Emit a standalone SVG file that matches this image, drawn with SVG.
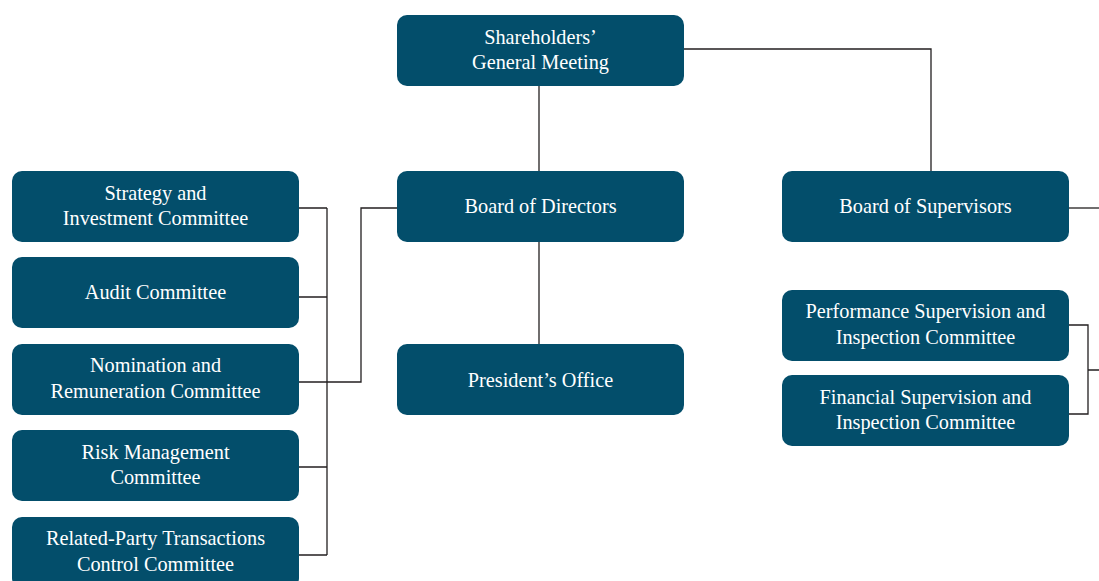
<svg xmlns="http://www.w3.org/2000/svg" width="1099" height="581" viewBox="0 0 1099 581">
<style>
.box{fill:#034e6b;}
.t{font-family:"Liberation Serif","DejaVu Serif",serif;font-size:20.3px;fill:#ffffff;text-anchor:middle;}
.c{fill:none;stroke:#231f20;stroke-width:1.3;}
</style>
<rect width="1099" height="581" fill="#ffffff"/>
<g id="connectors">
<path class="c" d="M539,86V171"/>
<path class="c" d="M684,49H931V171"/>
<path class="c" d="M539,242V344"/>
<path class="c" d="M397,208H361V382H298"/>
<path class="c" d="M327,208V555"/>
<path class="c" d="M298,208H327M298,297H327M298,467H327M298,555H327"/>
<path class="c" d="M1068,208H1099"/>
<path class="c" d="M1068,325H1088V414H1068M1088,370H1099"/>
</g>
<g id="shareholders"><rect class="box" x="397" y="15" width="287" height="71" rx="10"/><text class="t" x="540.5" y="44">Shareholders’</text><text class="t" x="540.5" y="69">General Meeting</text></g>
<g id="board-directors"><rect class="box" x="397" y="171" width="287" height="71" rx="10"/><text class="t" x="540.5" y="213">Board of Directors</text></g>
<g id="presidents-office"><rect class="box" x="397" y="344" width="287" height="71" rx="10"/><text class="t" x="540.5" y="387">President’s Office</text></g>
<g id="board-supervisors"><rect class="box" x="782" y="171" width="287" height="71" rx="10"/><text class="t" x="925.5" y="213">Board of Supervisors</text></g>
<g id="performance"><rect class="box" x="782" y="290" width="287" height="71" rx="10"/><text class="t" x="925.5" y="318">Performance Supervision and</text><text class="t" x="925.5" y="344">Inspection Committee</text></g>
<g id="financial"><rect class="box" x="782" y="375" width="287" height="71" rx="10"/><text class="t" x="925.5" y="404">Financial Supervision and</text><text class="t" x="925.5" y="429">Inspection Committee</text></g>
<g id="strategy"><rect class="box" x="12" y="171" width="287" height="71" rx="10"/><text class="t" x="155.5" y="200">Strategy and</text><text class="t" x="155.5" y="225">Investment Committee</text></g>
<g id="audit"><rect class="box" x="12" y="257" width="287" height="71" rx="10"/><text class="t" x="155.5" y="299">Audit Committee</text></g>
<g id="nomination"><rect class="box" x="12" y="344" width="287" height="71" rx="10"/><text class="t" x="155.5" y="372">Nomination and</text><text class="t" x="155.5" y="398">Remuneration Committee</text></g>
<g id="risk"><rect class="box" x="12" y="430" width="287" height="71" rx="10"/><text class="t" x="155.5" y="459">Risk Management</text><text class="t" x="155.5" y="484">Committee</text></g>
<g id="related-party"><rect class="box" x="12" y="517" width="287" height="71" rx="10"/><text class="t" x="155.5" y="545">Related-Party Transactions</text><text class="t" x="155.5" y="571">Control Committee</text></g>
</svg>
